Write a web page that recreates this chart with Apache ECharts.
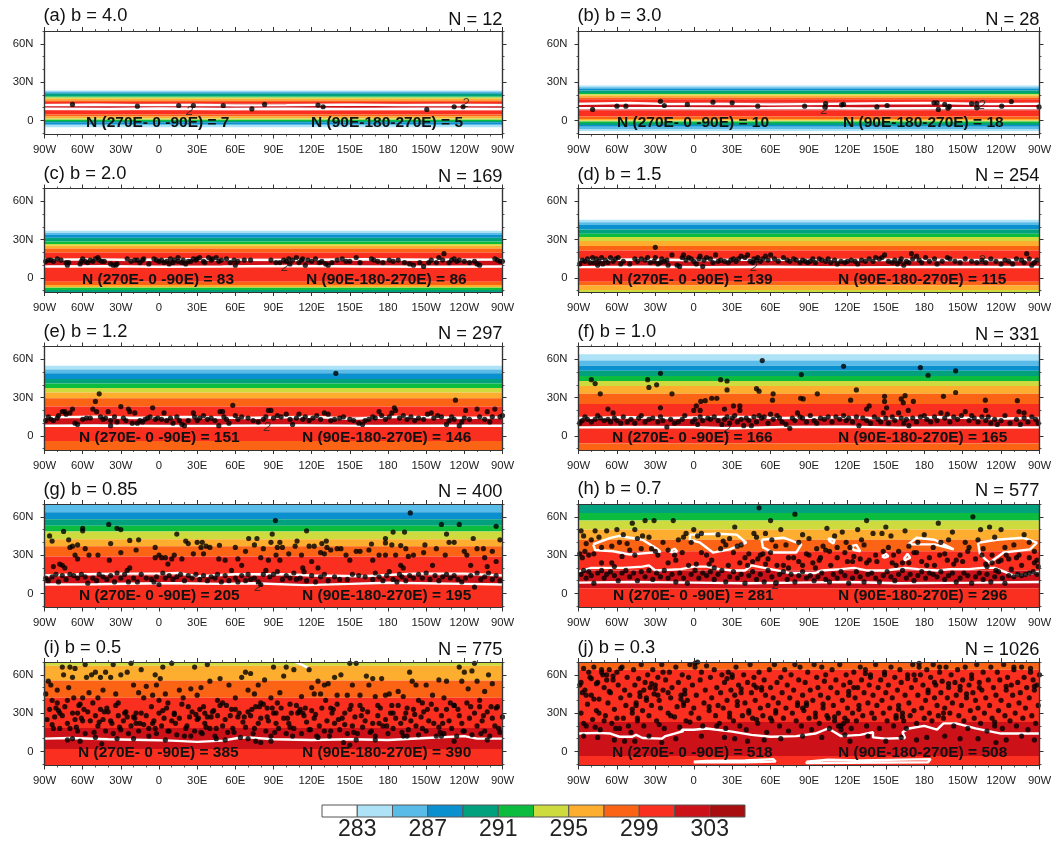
<!DOCTYPE html>
<html><head><meta charset="utf-8">
<style>html,body{margin:0;padding:0;background:#fff}#c{width:1056px;height:842px;filter:blur(0.6px)}</style>
<script src="https://cdn.jsdelivr.net/npm/echarts@6/dist/echarts.min.js"></script>
</head><body><div id="c"></div>
<script>
const levelColors=['#ffffff','#aee3f7','#58bbe8','#0a8fcf','#02a17e','#0cbc3f','#cedb3e','#fdae2f','#fb6414','#fb2f1f','#cd1119','#a80d0f'];
const levelEdges=[281,283,285,287,289,291,293,295,297,299,301,303,305];
const levelLabels=[283,287,291,295,299,303];
const xTickLabels=['90W','60W','30W','0','30E','60E','90E','120E','150E','180','150W','120W','90W'];
const yTickValues=[0,30,60];
const yTickLabels=['0','30N','60N'];
const yMinorValues=[-10,0,10,20,30,40,50,60,70];
const panelTitles=['(a) b = 4.0','(b) b = 3.0','(c) b = 2.0','(d) b = 1.5','(e) b = 1.2','(f) b = 1.0','(g) b = 0.85','(h) b = 0.7','(i) b = 0.5','(j) b = 0.3'];
const totalCounts=[12,28,169,254,297,331,400,577,775,1026];
const westCounts=[7,10,83,139,151,166,205,281,385,518];
const eastCounts=[5,18,86,115,146,165,195,296,390,508];

// bands: [northern edge latitude, colour level], each runs south to the next edge
const bandsA=[[70,0],[23.5,1],[22.7,2],[21.8,3],[20.8,4],[18.7,5],[18,6],[17,7],[15.7,8],[14.5,9],[13,10],[8,9],[4.7,8],[3,7],[1.5,6],[0.5,5],[-0.5,4],[-1.5,3],[-2.8,2],[-4,1],[-5.5,0]];
const bandsB=[[70,0],[27.3,1],[26,2],[25,3],[23.5,4],[21.5,5],[20.5,6],[19.5,7],[18,8],[16.5,9],[14,10],[8,9],[3,8],[1.2,7],[0,6],[-0.8,5],[-2,4],[-3.5,3],[-5,2],[-7,1],[-8.5,0]];
const bandsC=[[70,0],[37,1],[35.2,2],[33.7,3],[31.5,4],[28.5,5],[26.5,6],[25.2,7],[23,8],[20,9],[15,10],[9,9],[-3,8],[-5.5,7],[-7,6],[-7.7,5],[-9.5,4]];
const bandsD=[[70,0],[45.5,1],[43.5,2],[41.5,3],[38,4],[34.5,5],[32,6],[29,7],[25,8],[21.5,9],[15,10],[9,9],[-3,8],[-6,7],[-9.5,6]];
const bandsE=[[70,0],[55,1],[52,2],[49,3],[44.5,4],[41,5],[37.5,6],[34,7],[29.5,8],[23,9],[15,10],[8,9],[-4,8]];
const bandsF=[[70,0],[64,1],[59,2],[55,3],[51,4],[47,5],[43,6],[39,7],[33,8],[25,9],[14,10],[7,9],[-6,8]];
const bandsG=[[70,2],[63.6,3],[58,4],[53,5],[48.5,6],[42.5,7],[37,8],[29,9],[14,10],[7,9]];
const bandsH=[[70,4],[63,5],[57,6],[50,7],[42,8],[33,9],[18,10],[4,9]];
const bandsI=[[70,6],[67,7],[55.6,8],[42,9],[18.4,10],[2,9]];
const bandsJ=[[70,8],[64,9],[23,10],[-3.5,9]];

// contour paths, flat lon,lat lists
const contoursA=[[-90,12,-50,12.3,-20,12,30,12.2,60,11.8,100,12,150,12.4,190,12,230,12.2,270,12],[-90,9.2,-40,9,0,9.3,50,9,100,9.2,150,8.9,210,9.2,270,9]];
const contoursB=[[-90,13,-50,13.6,-20,12.8,20,13,60,12.6,110,13,150,13.4,190,13.6,230,12.8,270,13],[-90,9.5,-30,9.6,30,9.4,80,9.7,130,9.4,190,9.6,270,9.5]];
const contoursC=[[-90,14.3,-50,14.5,-20,14,20,14.6,60,14.2,110,14,160,14.6,210,14.2,270,14.3],[-90,9,-40,9.2,0,8.8,50,9,100,9.3,160,9,220,8.8,270,9]];
const contoursD=[[-90,14,-40,14.4,0,13.8,50,14.3,100,13.8,160,14.2,220,13.9,270,14],[-90,8.5,-40,8.8,10,8.4,60,8.8,120,8.3,180,8.7,270,8.6]];
const contoursE=[[-90,14.5,-50,15,-20,14,20,14.8,70,14,120,15,150,13.5,190,15,240,14,270,14.5],[-90,8,-50,8.2,0,7.8,50,8,110,8.3,170,7.9,220,8.1,270,8]];
const contoursF=[[-90,14,-50,14.6,-20,14,30,15,70,14,120,14.6,150,13.6,190,14.6,240,13.6,270,14],[-90,6.7,-50,7,0,6.8,30,6,70,7,120,7.2,160,6.5,220,6.6,270,6.7]];
const contoursG=[[-90,14,-60,15,-30,15.5,0,15.5,15,16,30,13.5,60,15,100,15,120,14,160,13.5,200,15.5,240,15.5,270,14],[-90,7,-50,7.2,0,8,15,8,50,7.5,75,8,115,6.5,150,7.5,180,8.5,240,7.5,270,7]];
const contoursH=[
 [-90,8.5,-50,9,0,8.5,40,8,80,8.5,120,9,160,8,220,8.5,270,9],
 [-90,17,-80,20,-70,20,-55,20,-40,21,-35,22,-30,18,-10,19,0,21,10,21,20,19,30,18,40,18,45,22,55,20,65,18,75,16,85,16,95,16,100,18,115,19,125,20,135,18,150,18,165,20,175,19,190,18,200,19,215,19,225,20,235,20,240,18,250,14,260,15,270,17],
 [-78.5,38.5,-65,43.5,-58,45,-40,42,-28,34.5,-26,32.5,-50,30.5,-63,33,-77,34,-78.5,38.5],
 [-3,46,18,46.7,33.5,46,41,39.7,28,34.5,15,32,5,39.7,-3,42,-3,46],
 [53,42,70,43.6,84,38.4,80,32,62,32,54,36,53,42],
 [167.5,38.4,174,43.6,188,42,203,34.5,188,38.4,167.5,38.4],
 [222,39.7,236.6,42,257,43.6,268,39.7,262.6,34.5,242,32,231,24,223.5,30.6,222,39.7],
 [123,37,127,38,130,33,125,34,123,37],[147,29,150,31,152,29,149,28,147,29],[164,27,167,31,169,28,165,26,164,27],[-19,33,-15,35,-13,33,-16,32,-19,33],[105,43,110,42,109,39,106,41,105,43]];
const contoursI=[[-90,10,-70,10.5,-40,9.5,-10,9,10,8.5,30,7.5,50,8.5,62,10.5,70,11,90,9.5,120,9,150,9.5,180,9,210,10.5,240,12,250,10,270,10],[107,70,112,68,118,65]];
const contoursJ=[[-90,14,-75,14.5,-65,14,-58,11.5,-48,11.5,-45,13,-40,10.5,-25,10,-22,12,-15,14,-8,16,-10,17,0,17,10,18,30,15.5,45,13,60,11.5,80,12,95,14,100,16,105,18,110,15,115,12,130,13,140,15,140,11,150,10,165,10.5,163,15,168,18,180,20,190,17,195,22,205,22,220,18,240,14,255,14,270,14],
 [0,-8,10,-7.5,40,-7,62,-6,64,-8,40,-8.5,0,-8.5,0,-8],[88,-8,105,-6.5,130,-7,185,-6,183,-8.5,88,-9,88,-8]];

// small contour labels
const twoMarksA=[[24,7],[241,13]],twoMarksB=[[102,8],[225,12]],twoMarksC=[[99,8]],twoMarksD=[[47,8],[225,14]],twoMarksE=[[85,7]],twoMarksF=[[26,5]],twoMarksG=[[78,5]],twoMarksH=[[64,6]],twoMarksI=[],twoMarksJ=[];

// storm points, flat lon,lat lists
const pointsA=[-68,12.5,-17,11.2,15.5,11.7,27,11.7,50.5,11.7,73,9,83,12.5,125,12,129,10.7,210.5,8.6,232,10.7,239,10.7];
const pointsB=[-79,8.6,-60,11.2,-53,11.2,-26,15,-23,11.7,-5,12.5,15,14.3,30,13.8,50,11.2,86.6,11.2,103,13.2,102.5,10.6,115.5,12.2,117,12.5,143,10.6,151,11.7,187.6,13.8,190,13.8,191,8.6,196,12.5,199.6,11,198.5,9.6,217,13.2,221,13.2,221,9.9,240.5,11.2,248,14.8,269.6,10.6];
const pointsC=[-89,13,-87,14,-85,14,-83,13,-80,15,-77,14,-73,12,-72,10,-71,12,-62,11,-61,13,-60,15,-58,13,-56,12,-54,14,-52,13,-50,15,-48,16,-47,14,-45,13,-43,13,-38,11,-36,10,-34,10,-33,11,-25,15,-22,13,-19,14,-17,14,-15,12,-13,14,-12,15,-8,11,-4,15,-2,14,0,13,2,14,4,12,6,13,8,11,9,15,11,12,12,14,15,13,15,16,18,12,19,14,21,11,23,13,25,13,27,15,29,14,30,15,32,16,35,13,36,12,39,16,41,14,42,15,45,16,47,13,49,14,53,15,56,12,59,14,60,10,62,13,67,14,72,14,88,14,92,12,95,12,98,14,100,13,102,15,103,11,105,14,108,16,110,12,112,14,113,15,115,10,117,14,120,13,123,15,126,12,128,13,131,11,133,10,136,12,140,14,144,15,147,13,150,13,155,16,158,12,167,15,169,14,172,13,176,12,181,14,184,13,188,14,193,12,197,11,200,10,205,12,208,9,212,12,214,14,218,12,220,16,223,14,224,19,228,12,230,14,232,15,234,13,236,14,240,13,244,12,248,13,250,11,252,10,264,15,266,14,268,13,270,13];
const pointsD=[-89,11,-87,14,-85,13,-83,15,-81,12,-79,16,-78,12,-76,15,-75,10,-74,13,-72,16,-71,11,-69,14,-67,12,-65,16,-63,13,-61,15,-59,16,-57,11,-55,13,-50,11,-46,15,-44,13,-41,15,-38,14,-36,16,-34,12,-31,13,-30,24,-30,16,-28,11,-26,12,-25,15,-23,13,-21,14,-20,10,-17,18,-13,10,-11,9,-9,16,-8,18,-6,14,-4,16,-2,15,0,13,2,11,4,15,5,17,7,9,8,14,10,16,13,15,15,12,17,18,19,13,21,14,24,13,27,12,29,14,31,15,33,13,35,15,37,17,40,16,42,18,44,13,46,12,47,15,49,14,50,16,52,13,54,15,56,17,58,14,60,18,63,15,66,13,70,16,73,14,75,13,78,15,80,14,83,12,85,14,87,13,89,12,91,13,93,15,95,12,98,15,100,14,103,13,105,15,107,12,110,14,112,11,115,13,118,12,120,13,123,14,126,13,128,11,131,14,134,13,137,15,140,13,142,16,145,15,147,16,149,18,152,13,155,12,157,14,159,11,161,13,162,15,164,10,166,13,168,12,170,19,171,15,174,17,176,14,178,12,181,16,184,13,188,15,190,11,194,13,198,16,200,15,204,13,208,12,212,15,217,13,221,12,225,14,228,12,232,15,236,13,240,11,243,14,246,13,249,11,252,15,256,14,258,12,260,19,262,15,264,10,266,12,268,14];
const pointsE=[-89,12,-87,15,-85,13,-83,12,-80,14,-79,16,-76,19,-74,19,-73,17,-70,18,-68,21,-66,10,-64,9,-60,13,-57,14,-54,14,-52,21,-50,27,-49,19,-47,33,-46,15,-44,13,-42,14,-40,19,-38,12,-38,8,-35,15,-33,11,-30,23,-28,14,-26,12,-24,21,-23,19,-21,10,-19,18,-17,10,-15,12,-13,11,-11,13,-9,14,-7,15,-5,22,-3,13,-1,14,2,13,4,18,6,12,9,14,11,10,14,15,16,12,18,9,20,8,23,12,27,18,28,15,30,12,32,14,35,16,38,13,41,14,44,12,47,8,48,19,50,19,51,15,53,13,55,10,58,24,60,16,62,13,65,15,70,14,74,12,78,11,82,13,84,15,86,20,88,20,90,14,93,16,96,15,100,17,103,13,105,9,108,14,110,17,113,13,115,15,118,12,121,14,124,16,127,13,130,18,133,17,135,12,138,13,139,49,142,14,145,15,150,13,153,12,157,10,160,9,162,12,165,13,168,15,170,14,173,19,175,16,178,13,181,15,183,18,185,22,186,20,189,14,192,16,195,13,198,15,201,12,204,14,208,13,211,17,214,18,216,14,219,16,222,15,226,9,228,12,230,15,232,13,233,28,236,8,238,11,240,14,241,20,244,13,250,21,252,15,256,13,258,19,260,11,262,15,264,21,268,15,270,16];
const pointsF=[-80,44,-77,41,-73,33,-36,44,-35,38,-29,40,-26,49,-17,33,-26,22,-67,21,-63,18,21,44,26,43,26,36,53.5,59,49,37,51,35,62,33,61.5,28,84,48,83.5,29.5,85.5,29,96.5,33,117,54.5,122.5,28,127,36,137,23.5,135,21,149,31,149,27,150.6,22,162,29,163.6,26,165,31.5,171.5,27,167.5,20,177,53.5,183,47.5,195,31,204.5,51,204.5,34,227.7,28,228,20,252.7,27.6,254,19,258,18,24,21,31,23.5,36,23.5,36,20,0,20,2,23.5,5,20,5.5,27,9,27.6,14,29.5,18,29.5,-89,10,-87,12,-85,15,-83,13,-80,11,-77,13,-75,16,-73,14,-70,12,-67,13,-65,11,-62,14,-60,12,-57,10,-55,15,-52,11,-49,13,-46,10,-43,14,-41,16,-38,11,-35,13,-32,14,-28,11,-26,15,-24,12,-21,7,-18,13,-15,10,-12,11,-9,13,-7,16,-1,11,1,13,3,9,5,15,7,12,11,14,13,13,16,15,19,12,22,9,24,13,26,15,28,10,30,14,32,16,34,11,37,13,39,8,41,14,43,12,45,8,47,15,49,11,51,16,53,14,55,15,58,10,60,17,62,13,65,16,67,14,69,11,72,9,75,6,77,14,79,12,81,18,83,15,85,14,88,11,91,16,94,12,96,10,99,14,102,13,105,15,108,11,111,15,114,13,117,16,119,12,121,14,124,11,127,15,129,8,132,14,135,12,138,10,141,15,144,13,146,11,148,18,150,14,152,10,155,15,157,12,160,18,162,14,164,10,166,13,168,8,171,14,174,11,177,15,180,16,182,13,185,11,188,15,190,12,193,18,196,14,198,17,200,11,203,15,206,13,209,16,212,19,215,12,217,16,219,14,222,11,225,15,228,12,230,15,232,10,235,13,237,9,240,12,243,16,247,10,252,13,255,9,258,14,261,11,264,15,267,13,269,10];
const pointsG=[-86,45,-84,41,-83,21,-75,48.5,-71,42,-64,38,-60,51,-60,49,-39.5,54,-33,51,-30,50,-38,39,-23,41.5,-16,42,14,46.5,21,41,23,39,30,40,34,40,47.5,37.7,70.5,43,77,43,91.5,57,89,46.5,88,40,95,40,116,49,197.5,63,222,54,236,54,265,52.5,226,46.5,184,48,193,48,178,43,178,39.5,190,37.5,167,38.7,209,38,247,43,268,42,131.5,41,108.5,41,-78,23,-76,22,-74,20,-70,36,-68,37,-66,30,-64,27,-58,35,-55,30,-48,30,-39,26,-30,32,-25,18,-23,20,-18,34,-3,36,-3,28,0,30,2,28,5,28,7,23,10,27,12,30,18,27,27,31,33,36,35,31,37,37,40,36,47,27,52,26,60,36,62,27,65,22,68,33,75,38,80,28,82,35,86,26,92,30,93,36,95,26,97,36,102,31,107,37,112,30,113,20,118,37,120,25,122,37,125,20,127,32,128,39,130,31,132,36,135,34,140,35,143,35,147,30,150,26,155,33,158,33,165,34,168,26,173,30,178,30,183,38,186,30,190,22,192,20,194,35,196,29,200,30,208,32,215,22,218,35,225,30,228,40,232,40,240,33,242,30,245,22,250,35,255,35,256,28,258,21,262,33,265,25,-89,12,-87,10,-84,13,-81,15,-79,9,-76,14,-73,11,-70,15,-67,14,-64,12,-61,15,-58,13,-56,8,-52,12,-49,10,-47,15,-44,13,-41,11,-38,14,-35,9,-33,16,-30,12,-27,15,-24,9,-20,12,-17,9,-14,15,-10,12,-6,11,-4,9,-2,13,0,7,3,16,5,12,8,14,11,11,14,13,17,15,20,10,23,14,26,12,29,15,32,11,35,14,38,10,41,13,44,12,46,15,49,9,52,14,55,10,57,18,60,12,62,9,65,14,68,10,70,15,72,11,75,12,78,9,80,7,82,15,84,18,87,13,90,15,93,17,97,11,100,14,103,12,106,16,108,11,111,12,114,17,116,10,120,14,123,9,127,13,130,15,133,10,138,13,142,11,148,11,152,15,157,14,162,13,168,11,170,16,173,13,176,10,179,14,181,17,184,11,187,9,189,15,191,13,194,10,197,14,200,12,204,15,207,12,210,16,213,11,217,14,220,10,223,13,226,15,229,12,232,14,235,11,238,9,241,12,245,14,248,5,250,16,253,11,256,13,259,16,262,11,265,14,268,10];
const pointsH=[-88,49,-86,45,-84,39,-80,42,-77,49,-74,44,-72,36,-68,49,-64,37,-60,50,-58,40,-55,46,-52,39,-48,55,-46,50,-44,43,-40,45,-38,57,-35,44,-33,35,-31,57,-28,30,-24,40,-20,34,-16,57,-15,30,-12,42,-8,44,-6,47,-2,40,0,50,3,45,6,47,10,30,14,26,19,46,23,41,25,38,28,43,32,52,34,37,37,38,40,28,43,31,47,47,49,44,51,67,52,30,54,31,56,47,58,27,60,57,61,42,64,37,68,50,70,22,72,38,74,28,79,62,82,40,85,46,88,31,90,43,93,24,96,35,99,28,101,37,104,51,106,33,110,45,112,28,116,48,119,40,122,36,125,29,128,50,131,42,133,38,135,57,137,26,140,47,143,25,147,47,150,52,152,36,154,45,156,30,160,33,163,24,165,49,168,37,172,32,175,40,180,46,184,28,187,36,191,55,193,40,196,31,199,42,202,48,205,26,208,30,212,40,215,36,218,60,222,42,224,50,226,35,228,23,231,52,233,30,235,44,238,25,240,50,243,36,246,27,250,38,254,30,258,46,262,40,266,33,268,26,-89,31,-87,28,-85,33,-82,30,-78,31,-72,24,-64,24,-62,21,-56,29,-50,34,-46,30,-41,35,-30,33,-20,24,-14,26,-9,32,-4,22,2,23,6,32,12,23,16,20,21,35,27,22,31,32,36,24,42,22,46,25,50,27,56,23,60,32,65,22,74,20,78,28,82,25,85,22,90,30,95,20,98,26,103,34,107,22,112,36,118,32,120,25,124,25,130,27,135,24,142,30,148,33,155,24,158,22,168,24,174,32,178,25,182,22,188,22,192,30,198,26,203,23,210,25,214,33,220,27,225,30,229,21,233,24,236,18,240,26,244,30,248,19,252,28,256,22,262,28,266,24,269,21,-88,15,-86,18,-84,12,-82,17,-80,14,-78,8,-75,16,-72,18,-70,12,-68,15,-65,17,-62,14,-59,10,-56,16,-53,18,-50,13,-47,16,-44,10,-41,17,-38,13,-35,18,-32,11,-29,16,-26,13,-23,18,-20,12,-17,15,-14,9,-11,16,-8,12,-5,8,-2,15,1,18,4,12,7,16,10,14,13,17,16,11,19,15,22,18,25,9,28,13,31,17,34,12,37,15,40,8,43,14,46,17,49,11,52,15,55,9,58,18,61,13,64,8,67,15,70,17,73,11,76,15,79,9,82,14,85,17,88,12,91,14,94,10,97,13,100,16,103,11,106,9,109,15,112,12,115,17,118,14,121,8,124,12,127,17,130,13,133,9,136,15,139,16,142,12,145,9,148,14,151,17,154,13,157,10,160,15,163,18,166,12,169,15,172,10,175,14,178,17,181,12,184,16,187,15,190,13,193,17,196,11,199,14,202,16,205,9,208,12,211,16,214,14,217,8,220,13,223,16,226,11,229,15,232,9,235,13,238,17,241,12,243,8,246,14,250,13,253,15,256,14,259,15,262,16,265,17,268,15];
const pointsI=[-89,45,-87,55,-85,52,-84,40,-81,34,-80,48,-78,30,-76,66,-75,60,-72,40,-71,50,-70,66,-68,58,-67,42,-66,65,-64,30,-63,36,-60,42,-58,68,-57,58,-55,46,-53,60,-50,62,-48,42,-46,58,-44,48,-42,62,-41,34,-38,58,-36,68,-34,45,-32,38,-30,60,-27,30,-25,62,-22,69,-20,52,-18,30,-16,46,-14,64,-12,42,-10,51,-5,44,-3,60,-2,52,0,40,1,57,3,66,5,45,7,38,10,69,12,30,16,48,19,42,23,35,25,49,28,66,30,44,33,50,36,30,38,68,40,55,43,32,46,40,48,57,50,38,55,52,60,42,63,30,65,58,68,62,70,48,72,61,75,45,78,52,80,38,83,56,85,34,88,42,90,66,92,30,95,46,98,59,100,66,103,37,106,64,109,30,112,43,115,34,118,64,120,50,122,45,125,55,127,45,130,52,133,53,135,34,138,58,140,44,143,60,146,30,148,44,150,69,152,52,155,69,158,44,160,33,163,59,165,52,168,57,170,43,172,36,175,57,178,44,181,45,184,30,188,47,192,43,195,34,197,62,199,55,202,52,204,40,207,38,210,52,215,44,218,33,220,56,224,42,226,55,229,38,232,36,236,66,238,55,240,62,243,49,246,63,248,69,250,55,252,40,256,47,259,60,262,53,265,34,-88,25,-86,33,-84,21,-82,27,-80,38,-78,18,-76,28,-74,35,-72,22,-70,18,-68,30,-66,25,-64,16,-62,37,-60,24,-58,14,-56,31,-54,24,-52,38,-50,28,-48,20,-46,33,-44,25,-42,16,-40,31,-38,24,-36,14,-34,36,-32,28,-30,17,-28,24,-26,31,-24,14,-22,20,-20,27,-18,22,-16,16,-14,30,-12,21,-10,28,-8,18,-6,35,-4,24,-2,14,0,30,2,20,4,26,6,34,8,16,10,24,12,29,14,13,16,26,18,37,20,12,22,20,24,27,26,31,28,16,30,25,32,33,34,14,36,22,38,27,40,18,42,31,44,12,46,28,48,36,50,20,52,25,54,15,56,28,58,18,60,33,62,27,64,11,66,23,68,19,70,31,72,28,74,14,76,35,78,22,80,26,82,37,84,16,86,24,88,12,90,30,92,22,94,18,96,34,98,26,100,14,102,22,104,30,106,18,108,36,110,31,112,14,114,28,116,23,118,17,120,32,122,26,124,12,126,20,128,34,130,16,132,24,134,12,136,30,138,22,140,37,142,17,144,26,146,21,148,14,150,33,152,20,154,27,156,14,158,36,160,19,162,24,164,31,166,15,168,22,170,12,172,28,174,34,176,20,178,25,180,14,182,30,184,18,186,26,188,36,190,22,192,12,194,30,196,17,198,24,200,33,202,20,204,13,206,27,208,31,210,16,212,24,214,37,216,22,218,12,220,19,222,28,224,14,226,33,228,24,230,18,232,36,234,12,236,28,238,22,240,16,242,38,244,26,246,13,248,30,250,20,252,35,254,24,256,16,258,31,260,12,262,26,264,20,266,35,268,15,270,27,-72,9,-68,10,-62,8,-50,11,-45,6,-33,10,-20,10,-8,12,5,9,25,12,45,10,52,9,70,10,76,8,80,7,88,8,105,12,125,11,145,7,150,5,155,9,170,9,195,12,222,12,232,8,258,9,-79,32,-61,26,-59,33,-47,23,-43,31,-37,22,-25,27,-19,26,-5,22,3,32,13,22,29,29,31,26,35,35,37,19,41,27,53,36,57,33,67,27,73,33,79,35,85,27,89,34,93,38,101,26,111,33,113,30,123,29,131,40,137,33,141,25,151,36,159,28,173,22,183,36,193,26,201,29,211,33,223,22,235,33,245,35,255,28,261,35,-83,18,-65,19,-51,15,-31,19,-15,22,-3,18,7,16,21,18,33,15,45,18,59,15,75,18,91,15,103,19,119,17,135,16,153,15,167,16,179,20,191,15,207,18,221,15,239,16,253,14,267,18];
const pointsJ=[-89,52,-88,54,-87,46,-88,30,-86,65,-86,22,-85,48,-84,44,-84,20,-83,37,-82,62,-81,58,-80,57,-80,44,-79,25,-78,66,-78,41,-77,19,-76,32,-76,53,-75,54,-74,41,-74,30,-73,17,-72,62,-72,64,-71,60,-70,50,-70,24,-69,28,-68,60,-68,56,-67,38,-66,64,-66,47,-65,46,-64,22,-63,56,-63,59,-62,33,-61,18,-60,62,-60,26,-59,52,-58,18,-57,42,-57,65,-56,66,-55,26,-54,48,-53,36,-52,58,-51,20,-50,44,-49,15,-48,30,-48,33,-47,64,-46,52,-45,38,-45,36,-44,24,-44,26,-43,57,-42,46,-42,43,-41,68,-40,32,-39,20,-39,48,-38,54,-37,42,-37,40,-36,60,-35,28,-34,50,-33,36,-33,53,-32,64,-31,45,-30,52,-30,49,-29,24,-28,58,-28,44,-27,40,-27,21,-26,34,-25,68,-24,48,-24,62,-23,18,-22,56,-20,30,-20,46,-19,62,-18,42,-18,28,-17,50,-15,27,-14,66,-13,35,-12,54,-11,19,-10,44,-10,41,-9,60,-8,36,-8,38,-7,48,-7,45,-6,24,-5,40,-4,58,-3,68,-3,23,-2,30,-1,52,0,34,1,66,1,69,2,44,3,70,4,26,5,56,6,62,7,20,8,38,9,48,10,67,12,32,12,35,13,58,14,42,16,64,17,28,18,50,18,20,19,36,20,22,21,46,22,60,23,34,24,54,25,18,26,40,26,57,27,62,28,30,28,27,29,48,30,58,30,60,31,24,32,44,33,66,34,36,34,39,35,52,36,20,37,46,37,49,38,28,39,60,40,38,41,17,42,54,43,32,43,30,44,68,45,46,46,26,47,58,47,52,48,40,49,50,49,25,50,22,51,62,52,34,53,48,53,50,54,28,55,56,56,44,57,15,58,36,59,64,60,50,60,26,61,24,62,42,63,68,64,30,64,32,65,54,66,38,67,20,68,58,69,46,70,26,71,64,72,34,73,52,74,16,75,42,76,60,77,30,78,48,79,68,80,24,81,38,81,36,82,56,83,66,84,20,85,44,85,34,86,32,87,54,88,36,88,38,89,62,90,26,91,48,92,17,93,40,94,68,95,30,95,27,96,58,97,50,98,22,99,44,100,66,101,34,101,37,102,55,103,60,104,28,105,42,105,26,106,18,107,50,108,64,109,36,110,24,110,27,111,56,112,46,113,30,113,20,114,68,115,20,115,17,116,40,117,52,117,22,118,26,119,60,120,34,120,24,121,44,121,47,122,54,123,18,124,30,125,62,125,50,126,42,127,24,128,50,129,36,129,33,130,66,131,56,132,28,133,46,134,64,134,61,135,20,136,38,137,52,138,60,138,58,139,30,140,44,141,26,142,68,143,36,144,50,145,18,146,56,147,40,148,30,149,62,149,60,150,46,151,24,152,52,153,34,154,66,155,42,156,20,157,58,158,28,158,26,159,48,160,36,160,33,161,64,162,54,163,30,163,27,164,24,165,44,166,18,167,60,167,57,168,38,169,28,170,50,171,68,172,32,172,60,173,56,174,22,175,44,176,66,176,69,177,60,178,34,179,52,180,26,181,40,182,64,183,48,183,46,184,30,185,58,186,24,187,68,188,42,188,54,189,52,190,36,191,28,192,62,192,66,193,46,194,55,195,26,195,30,196,34,197,66,198,42,199,50,199,53,200,30,201,60,202,38,203,20,204,54,205,44,206,64,207,28,208,48,208,51,209,36,210,56,211,24,212,66,213,42,213,45,214,18,215,52,216,32,217,60,217,57,218,46,219,26,220,40,221,68,222,34,223,54,223,50,224,22,225,48,226,62,227,30,228,42,229,16,230,56,231,36,232,66,233,26,234,50,235,20,235,23,236,44,237,62,238,32,239,56,240,40,241,18,242,68,243,28,244,48,244,51,245,58,246,36,247,24,248,52,249,44,250,64,250,66,251,30,252,20,253,54,254,38,255,46,256,66,257,26,258,58,259,34,260,50,261,17,262,42,263,62,263,65,264,28,265,56,266,48,266,51,267,22,268,52,269,36,270,60,-86,12,-75,11,-62,9,-54,8,-46,8,-35,12,-25,7,-14,10,6,12,24,11,32,10,42,8,55,9,68,10,85,12,100,11,118,13,122,8,136,12,150,8,162,11,174,9,182,11,196,12,208,10,222,10,236,7,244,9,256,12,266,9];

const allBands=[bandsA,bandsB,bandsC,bandsD,bandsE,bandsF,bandsG,bandsH,bandsI,bandsJ];
const allContours=[contoursA,contoursB,contoursC,contoursD,contoursE,contoursF,contoursG,contoursH,contoursI,contoursJ];
const allTwos=[twoMarksA,twoMarksB,twoMarksC,twoMarksD,twoMarksE,twoMarksF,twoMarksG,twoMarksH,twoMarksI,twoMarksJ];
const allPoints=[pointsA,pointsB,pointsC,pointsD,pointsE,pointsF,pointsG,pointsH,pointsI,pointsJ];

const rowTops=[31,188.5,346.5,504,662];
const colLefts=[44.5,578.5],colWidths=[458,461];
const titleYs=[16,16,174,175,332,332,490,489,648,648];
const countYs=[20,20,177,176,334,335,492,491,650,650];
const insideYs=[123,123,280,280,438,438,596,596,753,753];
const insideWest=[86,617,82,612,79,612,79,613,78,612];
const insideEast=[311,843,306,838,302,838,302,838,302,838];
const LON0=-90,LON1=270,LAT0=-11,LAT1=70,H=103.5;

const pairs=f=>{const o=[];for(let i=0;i<f.length;i+=2)o.push([f[i],f[i+1]]);return o;};
const ink='#333';
const grids=[],xAxes=[],yAxes=[],series=[],graphic=[];
const txt='"Liberation Sans",Helvetica,Arial,sans-serif';
for(let p=0;p<10;p++){
  const c=p%2,r=Math.floor(p/2);
  grids.push({left:colLefts[c],width:colWidths[c],top:rowTops[r],height:H});
  const gi=grids.length-1;
  const xb={type:'value',gridIndex:gi,min:LON0,max:LON1,interval:30,z:10,splitLine:{show:false},
    axisLine:{show:true,onZero:false,lineStyle:{color:ink,width:1.2}},
    axisTick:{show:true,length:4,lineStyle:{color:ink,width:1}},
    minorTick:{show:true,splitNumber:3,length:2,lineStyle:{color:ink,width:.8}}};
  const xi=xAxes.length;
  xAxes.push({...xb,position:'bottom',axisLabel:{show:true,color:'#222',fontSize:11.3,fontFamily:txt,margin:10,showMinLabel:true,showMaxLabel:true,hideOverlap:false,formatter:(v,i)=>xTickLabels[Math.round((v-LON0)/30)]}});
  xAxes.push({...xb,position:'top',axisLabel:{show:false}});
  const yb={type:'value',gridIndex:gi,min:LAT0,max:LAT1,z:10,splitLine:{show:false},axisLine:{show:true,onZero:false,lineStyle:{color:ink,width:1.2}}};
  const yi=yAxes.length;
  yAxes.push({...yb,position:'left',axisTick:{show:true,length:4,customValues:yTickValues,lineStyle:{color:ink,width:1}},
    axisLabel:{show:true,customValues:yTickValues,color:'#222',fontSize:11.3,fontFamily:txt,margin:11,formatter:v=>yTickLabels[yTickValues.indexOf(v)]}});
  yAxes.push({...yb,position:'left',axisTick:{show:true,length:2,customValues:yMinorValues,lineStyle:{color:ink,width:.8}},axisLabel:{show:false}});
  yAxes.push({...yb,position:'right',axisTick:{show:true,length:4,customValues:yTickValues,lineStyle:{color:ink,width:1}},axisLabel:{show:false}});
  yAxes.push({...yb,position:'right',axisTick:{show:true,length:2,customValues:yMinorValues,lineStyle:{color:ink,width:.8}},axisLabel:{show:false}});

  const b=allBands[p];
  const bandData=b.map((e,i)=>[e[0],i+1<b.length?b[i+1][0]:LAT0,e[1]]);
  series.push({type:'custom',xAxisIndex:xi,yAxisIndex:yi,z:1,silent:true,clip:true,data:bandData,
    renderItem:(ps,api)=>{const a=api.coord([LON0,api.value(0)]),d=api.coord([LON1,api.value(1)]);
      return {type:'rect',shape:{x:a[0],y:a[1],width:d[0]-a[0],height:d[1]-a[1]},style:{fill:levelColors[api.value(2)]}};}});
  allContours[p].forEach(ct=>series.push({type:'line',xAxisIndex:xi,yAxisIndex:yi,z:2,silent:true,showSymbol:false,smooth:false,clip:true,
    lineStyle:{color:'#fff',width:2.4},data:pairs(ct)}));
  if(allTwos[p].length)series.push({type:'scatter',xAxisIndex:xi,yAxisIndex:yi,z:3,silent:true,symbolSize:0,data:allTwos[p],
    label:{show:true,position:'inside',formatter:'2',fontSize:13,fontStyle:'italic',fontFamily:txt,color:'#222'}});
  series.push({type:'scatter',xAxisIndex:xi,yAxisIndex:yi,z:4,silent:true,clip:false,symbol:'circle',symbolSize:5.2,itemStyle:{color:'#000'},data:pairs(allPoints[p])});

  const tx=(x,y,text,font,align)=>graphic.push({type:'text',x,y,z:20,silent:true,style:{text,font,fill:'#111',textAlign:align||'left',textVerticalAlign:'middle'}});
  tx(colLefts[c]-1,titleYs[p],panelTitles[p],'18.3px '+txt);
  tx(colLefts[c]+colWidths[c],countYs[p],'N = '+totalCounts[p],'18.3px '+txt,'right');
  tx(insideWest[p],insideYs[p],'N (270E- 0 -90E) = '+westCounts[p],'bold 15.5px '+txt);
  tx(insideEast[p],insideYs[p],'N (90E-180-270E) = '+eastCounts[p],'bold 15.5px '+txt);
}
// colour bar
grids.push({left:322,width:423,top:805,height:12});
const gb=grids.length-1,xb=xAxes.length,yb2=yAxes.length;
xAxes.push({type:'value',gridIndex:gb,min:levelEdges[0],max:levelEdges[12],z:10,splitLine:{show:false},axisLine:{show:false},axisTick:{show:false},
  axisLabel:{show:true,customValues:levelLabels,color:'#222',fontSize:23,fontFamily:txt,margin:1}});
yAxes.push({type:'value',gridIndex:gb,min:0,max:1,show:false});
series.push({type:'custom',xAxisIndex:xb,yAxisIndex:yb2,silent:true,data:levelColors.map((_,i)=>[levelEdges[i],levelEdges[i+1],i]),
  renderItem:(ps,api)=>{const a=api.coord([api.value(0),1]),d=api.coord([api.value(1),0]);
    return {type:'rect',shape:{x:a[0],y:a[1],width:d[0]-a[0],height:d[1]-a[1]},style:{fill:levelColors[api.value(2)],stroke:'#555',lineWidth:1}};}});

echarts.init(document.getElementById('c'),null,{renderer:'canvas'}).setOption({animation:false,backgroundColor:'#fff',grid:grids,xAxis:xAxes,yAxis:yAxes,series,graphic});
</script></body></html>
